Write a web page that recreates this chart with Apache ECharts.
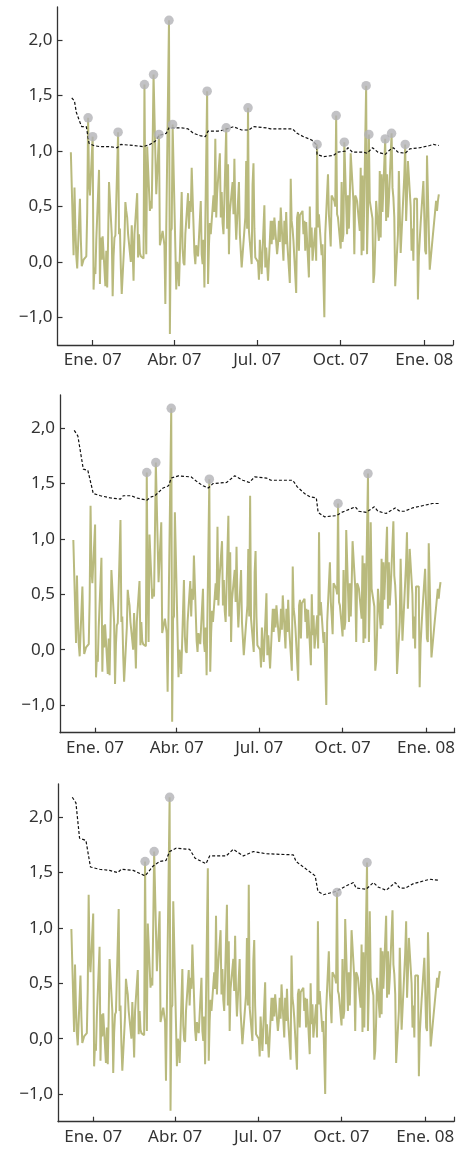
<!DOCTYPE html>
<html>
<head>
<meta charset="utf-8">
<script src="https://cdn.jsdelivr.net/npm/echarts@6/dist/echarts.min.js"></script>
<style>
html,body{margin:0;padding:0;background:#fff;}
#chart{width:458px;height:1152px;}
</style>
</head>
<body>
<div id="chart"></div>
<script>
// Daily (business-day) series, starting Fri 8 Dec 2006; null = no observation
const values = [
 0.99,
 0.06,0.67,0.30,0.05,-0.06,
 0.57,0.20,-0.04,-0.04,0.02,
 0.05,0.45,1.30,0.72,0.60,
 1.13,-0.25,-0.05,-0.11,0.20,
 0.83,-0.20,0.22,0.02,0.23,
 -0.22,0.10,-0.23,0.20,0.72,
 0.25,-0.31,0.05,0.22,0.24,
 1.17,0.25,0.30,-0.05,-0.29,
 0.20,0.54,0.46,0.40,0.25,
 0.00,0.33,0.10,-0.17,0.25,
 0.62,0.04,0.25,0.08,0.05,
 0.03,1.60,0.50,0.07,1.04,
 0.46,0.55,0.48,1.04,1.69,
 0.61,0.62,0.61,1.15,0.15,
 0.28,0.29,0.15,-0.38,0.30,
 2.18,-0.65,0.28,0.30,1.24,
 0.13,-0.25,0.00,-0.05,-0.22,
 0.63,0.12,-0.01,-0.03,0.25,
 0.62,0.30,0.55,0.45,0.85,
 0.08,-0.02,0.15,0.16,0.05,
 0.55,0.07,-0.02,0.20,-0.23,
 1.54,-0.20,0.15,0.35,0.25,
 0.60,0.45,1.11,0.40,0.62,
 0.98,0.40,0.63,0.35,0.25,
 1.21,0.30,0.88,0.07,0.45,
 0.72,0.43,0.93,0.43,0.20,
 0.72,0.25,0.25,-0.05,-0.05,
 0.40,0.91,0.30,1.39,0.28,
 -0.02,0.70,0.89,0.30,0.04,
 0.00,-0.16,0.20,0.21,-0.11,
 0.51,-0.05,0.13,0.13,-0.17,
 0.37,0.16,0.37,0.20,0.40,
 0.07,0.16,0.37,0.18,0.49,
 0.01,0.37,0.16,0.45,0.20,
 -0.19,0.75,0.37,0.30,0.19,
 -0.28,0.40,0.45,0.10,0.42,
 0.46,0.25,0.37,0.10,0.36,
 -0.14,0.50,0.13,0.31,0.01,
 0.31,0.01,1.06,0.31,0.43,
 0.06,0.16,0.15,-0.50,0.25,
 0.79,0.43,0.30,0.14,0.60,
 0.55,0.50,1.32,0.43,0.40,
 0.12,0.72,0.18,0.25,1.08,
 0.25,0.60,0.30,0.58,0.98,
 0.55,0.07,0.60,0.58,0.55,
 0.28,0.85,0.06,0.78,0.10,
 1.59,0.07,0.45,1.15,0.55,
 0.39,-0.19,-0.11,0.15,0.55,
 0.19,0.82,0.22,0.79,0.45,
 1.11,0.37,0.79,0.40,0.55,
 1.16,0.67,0.58,0.40,-0.22,
 0.25,0.82,0.45,0.08,0.08,
 0.78,1.06,0.37,0.60,0.91,
 0.50,0.10,0.30,0.01,0.57,
 0.57,-0.34,0.05,0.20,0.35,
 0.73,null,0.10,0.07,0.96,
 -0.07,null,null,0.20,null,
 0.55,0.46,0.55,0.61
];

// Exceedances (indices into values) per panel
const exceed1 = [13,16,36,57,65,69,76,80,106,121,139,193,208,215,231,234,246,251,262];
const exceed2 = [57,65,76,106,208,231];
const exceed3 = [57,65,76,208,231];

// Threshold lines: days since 1 Jan 2007, and level
const thr1Days = [-23,-20,-18,-14,-12,-7,-4,1,8,19,27,31,45,56,63,69,73,81,84,98,105,111,118,124,127,138,144,155,164,172,177,191,196,220,225,232,241,246,247,254,265,270,278,281,286,298,302,308,314,322,327,331,336,344,349,360,371,375,381];
const thr1 = [1.48,1.45,1.35,1.26,1.22,1.22,1.07,1.05,1.04,1.04,1.03,1.06,1.05,1.04,1.06,1.09,1.14,1.16,1.21,1.21,1.20,1.16,1.14,1.13,1.18,1.18,1.19,1.22,1.19,1.19,1.22,1.21,1.20,1.20,1.16,1.13,1.10,1.06,0.97,0.95,0.96,0.99,1.00,1.03,0.99,0.99,0.98,1.03,0.99,0.97,1.01,1.03,0.99,0.98,1.02,1.03,1.05,1.06,1.05];

const thr2Days = [-23,-19,-13,-8,-2,6,17,28,31,40,46,57,62,66,71,75,81,84,92,106,112,119,125,130,145,154,163,170,176,189,194,218,223,231,237,244,246,253,266,272,281,287,291,299,308,312,321,331,336,341,350,361,372,381];
const thr2 = [1.98,1.93,1.63,1.62,1.41,1.39,1.37,1.36,1.39,1.39,1.37,1.35,1.38,1.39,1.43,1.46,1.48,1.55,1.57,1.56,1.52,1.48,1.46,1.50,1.51,1.57,1.53,1.51,1.56,1.55,1.53,1.53,1.47,1.41,1.38,1.37,1.24,1.20,1.21,1.24,1.27,1.29,1.25,1.24,1.29,1.25,1.23,1.28,1.25,1.25,1.28,1.30,1.32,1.32];

const thr3Days = [-23,-19,-15,-8,-3,7,18,27,31,44,57,66,73,80,84,91,106,112,124,128,146,154,165,176,190,220,223,231,244,247,253,267,278,286,289,300,308,313,322,332,337,343,352,370,381];
const thr3 = [2.18,2.13,1.81,1.79,1.55,1.53,1.52,1.50,1.53,1.52,1.47,1.56,1.60,1.61,1.69,1.72,1.71,1.63,1.58,1.65,1.65,1.71,1.65,1.69,1.67,1.66,1.60,1.55,1.47,1.33,1.30,1.33,1.38,1.41,1.36,1.35,1.41,1.37,1.34,1.41,1.36,1.36,1.40,1.44,1.43];

// Axis ticks
const xTickDays = [0, 90, 181, 273, 365];
const xTickLabels = ['Ene. 07', 'Abr. 07', 'Jul. 07', 'Oct. 07', 'Ene. 08'];
const yTickValues = [-0.5, 0, 0.5, 1, 1.5, 2];
const yTickLabels = ['\u22121,0', '0,0', '0,5', '1,0', '1,5', '2,0'];

// business-day dates -> days since 1 Jan 2007
const DAY = 86400000;
const base = Date.UTC(2007, 0, 1);
let t = Date.UTC(2006, 11, 8);
const days = [];
for (let i = 0; i < values.length; i++) {
  while ([0, 6].includes(new Date(t).getUTCDay())) t += DAY;
  days.push((t - base) / DAY);
  t += DAY;
}
const lineData = [];
values.forEach((v, i) => { if (v !== null) lineData.push([days[i], v]); });
const pts = idx => idx.map(i => [days[i], values[i]]);
const thrData = (d, v) => d.map((x, i) => [x, v[i]]);

const X_MIN = -38.7, X_MAX = 396.6;
const grids = [
  {left: 57.5, top: 7, width: 395.5, height: 338},
  {left: 60, top: 395, width: 395, height: 337.7},
  {left: 58, top: 784, width: 396, height: 337.7}
];
const FONT = 'Noto Sans';
const AX = '#333';
const xAxes = grids.map((g, k) => ({
  type: 'value', gridIndex: k, min: X_MIN, max: X_MAX,
  axisLine: {onZero: false, lineStyle: {color: AX, width: 1.3}},
  axisTick: {inside: true, length: 5, lineStyle: {color: AX, width: 1.2}, customValues: xTickDays.concat([X_MAX])},
  axisLabel: {customValues: xTickDays, margin: 7, color: AX, fontFamily: FONT, fontSize: 17,
    formatter: v => xTickLabels[xTickDays.indexOf(v)] || ''},
  splitLine: {show: false}
}));
const yAxes = grids.map((g, k) => ({
  type: 'value', gridIndex: k, min: -0.75, max: 2.3,
  axisLine: {show: true, onZero: false, lineStyle: {color: AX, width: 1.3}},
  axisTick: {show: true, inside: true, length: 5, lineStyle: {color: AX, width: 1.2}, customValues: yTickValues},
  axisLabel: {customValues: yTickValues, margin: 5, color: AX, fontFamily: FONT, fontSize: 17,
    formatter: v => yTickLabels[yTickValues.findIndex(q => Math.abs(q - v) < 1e-9)] || ''},
  splitLine: {show: false}
}));
const thrs = [thrData(thr1Days, thr1), thrData(thr2Days, thr2), thrData(thr3Days, thr3)];
const exs = [exceed1, exceed2, exceed3];
const series = [];
for (let k = 0; k < 3; k++) {
  series.push({type: 'line', xAxisIndex: k, yAxisIndex: k, data: lineData, showSymbol: false, symbol: 'none',
    lineStyle: {color: '#b9ba7d', width: 2}, z: 2});
  series.push({type: 'line', xAxisIndex: k, yAxisIndex: k, data: thrs[k], showSymbol: false, symbol: 'none',
    lineStyle: {color: '#111', width: 1.2, type: [3, 2]}, z: 3});
  series.push({type: 'scatter', xAxisIndex: k, yAxisIndex: k, data: pts(exs[k]), symbol: 'circle', symbolSize: 9.5,
    itemStyle: {color: '#b3b3b7'}, z: 4});
}
const chart = echarts.init(document.getElementById('chart'), null, {renderer: 'canvas'});
chart.setOption({animation: false, backgroundColor: '#fff', grid: grids, xAxis: xAxes, yAxis: yAxes, series});
</script>
</body>
</html>
